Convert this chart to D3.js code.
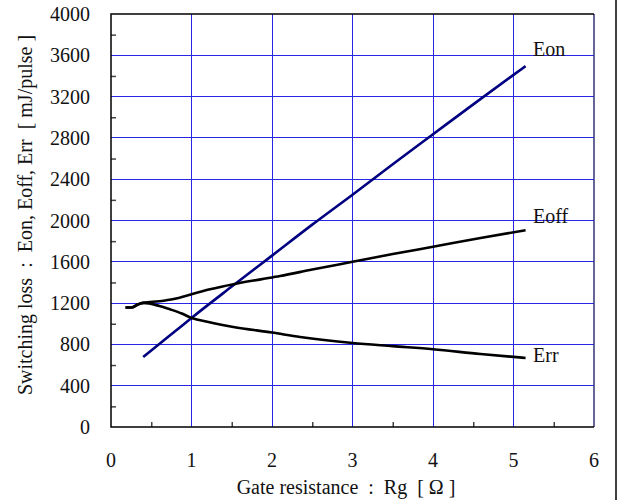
<!DOCTYPE html>
<html>
<head>
<meta charset="utf-8">
<script src="https://cdn.jsdelivr.net/npm/d3@7"></script>
<style>
  body{margin:0;background:#fff}
  text{font-family:"Liberation Serif","Times New Roman",serif;fill:#111}
</style>
</head>
<body>
<div id="chart"></div>
<script>
// 数据
const eonX  = [0.4, 0.6, 0.8, 1.0, 1.5, 2.0, 2.5, 3.0, 3.5, 4.0, 4.5, 5.0, 5.15]
const eonY  = [678, 805, 930, 1056, 1360, 1660, 1960, 2250, 2545, 2835, 3125, 3410, 3495]
const eoffX = [0.18, 0.26, 0.34, 0.4, 0.6, 0.78, 1.0, 1.23, 1.52, 1.86, 2.1, 2.5, 3.0, 3.5, 4.0, 4.59, 5.15]
const eoffY = [1157, 1158, 1189, 1202, 1218, 1240, 1286, 1334, 1383, 1430, 1462, 1525, 1600, 1675, 1746, 1831, 1906]
const errX  = [0.18, 0.26, 0.34, 0.4, 0.6, 0.74, 0.88, 1.0, 1.11, 1.52, 2.0, 2.35, 3.0, 3.5, 4.0, 4.59, 5.15]
const errY  = [1157, 1158, 1189, 1202, 1172, 1138, 1099, 1056, 1034, 969, 915, 872, 814, 783, 753, 707, 669]
const xTicks = [0, 1, 2, 3, 4, 5, 6]
const yTicks = [0, 400, 800, 1200, 1600, 2000, 2400, 2800, 3200, 3600, 4000]
const seriesNames = ['Eon', 'Eoff', 'Err']

const W = 618, H = 500
const m = {left:111, top:14, right:594, bottom:427}
const fs = 20

const svg = d3.select('#chart').append('svg').attr('width', W).attr('height', H)

const x = d3.scaleLinear().domain([0, 6]).range([m.left, m.right])
const y = d3.scaleLinear().domain([0, 4000]).range([m.bottom, m.top])

// 网格
const grid = svg.append('g').attr('shape-rendering','crispEdges')
grid.selectAll('line.gx').data(xTicks.slice(1, -1)).join('line')
    .attr('x1', d=>x(d)).attr('x2', d=>x(d)).attr('y1', m.top).attr('y2', m.bottom)
    .attr('stroke', '#2626e6').attr('stroke-width', 1)
grid.selectAll('line.gy').data(yTicks.slice(1, -1)).join('line')
    .attr('y1', d=>y(d)).attr('y2', d=>y(d)).attr('x1', m.left).attr('x2', m.right)
    .attr('stroke', '#2626e6').attr('stroke-width', 1)

// 小刻度 (inward)
const minorX = d3.range(0.5, 6, 1)
const minorY = d3.range(200, 4000, 400)
svg.append('g').attr('class','axis-x')
    .attr('transform', `translate(0,${m.bottom})`)
    .call(d3.axisBottom(x).tickValues(minorX).tickSize(-5).tickFormat(''))
    .call(g=>g.select('.domain').remove())
    .call(g=>g.selectAll('line').attr('stroke','#444').attr('stroke-width',1.5))
svg.append('g').attr('class','axis-y')
    .attr('transform', `translate(${m.left},0)`)
    .call(d3.axisLeft(y).tickValues(minorY).tickSize(-5).tickFormat(''))
    .call(g=>g.select('.domain').remove())
    .call(g=>g.selectAll('line').attr('stroke','#444').attr('stroke-width',1.5))

// 边框
svg.append('line').attr('x1', m.right).attr('x2', m.right).attr('y1', m.top).attr('y2', m.bottom)
    .attr('stroke', '#33337a').attr('stroke-width', 1.5)
svg.append('path')
    .attr('d', `M${m.right},${m.top}H${m.left}V${m.bottom}H${m.right}`)
    .attr('fill','none').attr('stroke','#000').attr('stroke-width',1.5)

// 刻度文字
svg.append('g').selectAll('text').data(xTicks).join('text')
    .attr('x', d=>x(d)).attr('y', 467).attr('text-anchor','middle')
    .attr('font-size', fs).text(d=>d)
svg.append('g').selectAll('text').data(yTicks).join('text')
    .attr('x', 90).attr('y', d=>y(d)+7).attr('text-anchor','end')
    .attr('font-size', fs).text(d=>d)

svg.append('text').attr('x', 346).attr('y', 494).attr('text-anchor','middle')
    .attr('font-size', fs).attr('xml:space','preserve')
    .text('Gate resistance  :  Rg  [ \u03A9 ]')
svg.append('text').attr('transform', `translate(32,215) rotate(-90)`)
    .attr('text-anchor','middle').attr('font-size', fs).attr('xml:space','preserve')
    .text('Switching loss  :  Eon, Eoff, Err  [ mJ/pulse ]')

// 曲线
const line = d3.line().x(d=>x(d[0])).y(d=>y(d[1])).curve(d3.curveMonotoneX)
const series = [
  {name:seriesNames[0], pts:d3.zip(eonX, eonY),  color:'#000080', label:[533, 56]},
  {name:seriesNames[1], pts:d3.zip(eoffX, eoffY), color:'#000', label:[533, 223]},
  {name:seriesNames[2], pts:d3.zip(errX, errY),  color:'#000', label:[533, 362]}
]
svg.append('g').selectAll('path').data(series).join('path')
    .attr('d', d=>line(d.pts)).attr('fill','none')
    .attr('stroke', d=>d.color).attr('stroke-width', 2.6)
svg.append('g').selectAll('text').data(series).join('text')
    .attr('x', d=>d.label[0]).attr('y', d=>d.label[1])
    .attr('font-size', fs).text(d=>d.name)

// 外框线
svg.append('line').attr('x1', 616).attr('x2', 616).attr('y1', 0).attr('y2', H)
    .attr('stroke','#000').attr('stroke-width',1.5)
</script>
</body>
</html>
